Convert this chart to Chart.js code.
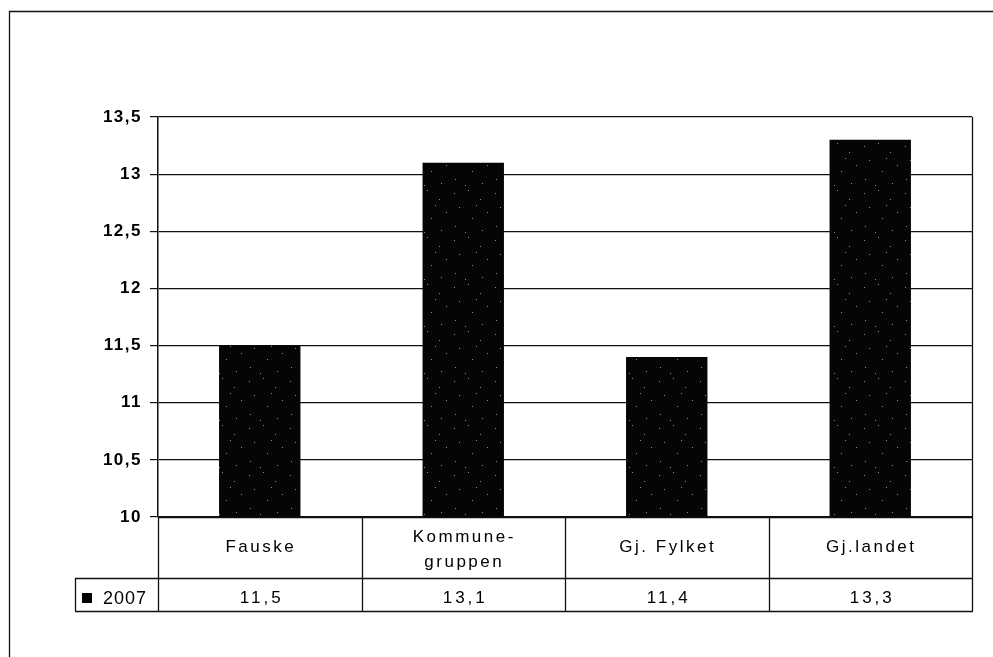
<!DOCTYPE html>
<html>
<head>
<meta charset="utf-8">
<script src="https://cdn.jsdelivr.net/npm/chart.js@4/dist/chart.umd.min.js"></script>
<style>
  html, body { margin: 0; padding: 0; background: #fff; }
  #wrap { width: 993px; height: 657px; }
</style>
</head>
<body>
<div id="wrap"><canvas id="c"></canvas></div>
<script>
// data
const categories = [['Fauske'], ['Kommune-', 'gruppen'], ['Gj. Fylket'], ['Gj.landet']]
const seriesName = '2007'
const values = [11.5, 13.1, 11.4, 13.3]
const valueLabels = ['11,5', '13,1', '11,4', '13,3']
const yMin = 10, yMax = 13.5, yStep = 0.5

const FONT = '"Liberation Sans", Arial, sans-serif'
const fmtComma = v => String(v).replace('.', ',')

// black fill with a few light specks, like the scanned original
function speckle() {
  const c = document.createElement('canvas')
  c.width = 41; c.height = 47
  const g = c.getContext('2d')
  g.fillStyle = '#050505'
  g.fillRect(0, 0, c.width, c.height)
  g.fillStyle = '#8a8a8a'
  const dots = [[3, 5], [17, 2], [29, 11], [8, 19], [36, 24], [21, 30], [4, 38], [31, 42], [14, 44], [25, 17]]
  dots.forEach(([dx, dy]) => g.fillRect(dx, dy, 1, 1))
  return document.getElementById('c').getContext('2d').createPattern(c, 'repeat')
}

// frame, y labels and the data table under the plot
const tablePlugin = {
  id: 'dataTable',
  afterDraw(chart) {
    const ctx = chart.ctx
    const x = chart.scales.x, y = chart.scales.y
    const area = chart.chartArea
    const catRowBottom = 578
    const serRowBottom = 611
    const legendLeft = 75
    ctx.save()
    ctx.strokeStyle = '#111'
    ctx.lineWidth = 1.3

    // outer frame (left + top only visible)
    ctx.beginPath()
    ctx.moveTo(9.5, 657); ctx.lineTo(9.5, 11.5); ctx.lineTo(993, 11.5)
    ctx.stroke()

    // plot right border
    ctx.beginPath()
    ctx.moveTo(area.right + 0.5, area.top); ctx.lineTo(area.right + 0.5, area.bottom)
    ctx.stroke()

    // table grid
    const half = (x.getPixelForValue(1) - x.getPixelForValue(0)) / 2
    const edges = categories.map((c, i) => x.getPixelForValue(i) - half).concat(area.right)
    ctx.beginPath()
    edges.forEach(ex => { ctx.moveTo(Math.round(ex) + 0.5, area.bottom); ctx.lineTo(Math.round(ex) + 0.5, serRowBottom) })
    ctx.moveTo(legendLeft + 0.5, catRowBottom); ctx.lineTo(legendLeft + 0.5, serRowBottom)
    ctx.moveTo(area.left, area.bottom + 0.5); ctx.lineTo(area.right, area.bottom + 0.5)
    ctx.moveTo(legendLeft, catRowBottom + 0.5); ctx.lineTo(area.right, catRowBottom + 0.5)
    ctx.moveTo(legendLeft, serRowBottom + 0.5); ctx.lineTo(area.right + 1, serRowBottom + 0.5)
    ctx.stroke()

    ctx.fillStyle = '#000'
    ctx.textBaseline = 'alphabetic'
    ctx.textAlign = 'center'
    ctx.font = '17px ' + FONT
    ctx.letterSpacing = '2.5px'

    // category names
    categories.forEach((lines, i) => {
      const cx = x.getPixelForValue(i) + 1
      if (lines.length === 1) ctx.fillText(lines[0], cx, 552)
      else lines.forEach((ln, k) => ctx.fillText(ln, cx, 542 + k * 25))
    })

    // values row
    ctx.letterSpacing = '3px'
    valueLabels.forEach((t, i) => ctx.fillText(t, x.getPixelForValue(i) + 2, 603))

    // legend cell
    ctx.fillRect(82, 593, 10, 10)
    ctx.textAlign = 'left'
    ctx.font = '18px ' + FONT
    ctx.letterSpacing = '1px'
    ctx.fillText(seriesName, 103, 604)

    // y labels
    ctx.textAlign = 'right'
    ctx.textBaseline = 'middle'
    ctx.font = 'bold 17px ' + FONT
    ctx.letterSpacing = '1.5px'
    y.ticks.forEach(t => {
      ctx.fillText(fmtComma(t.value), 142, y.getPixelForValue(t.value))
    })
    ctx.restore()
  }
}

new Chart(document.getElementById('c'), {
  type: 'bar',
  data: {
    labels: categories.map(c => c.join(' ')),
    datasets: [{
      label: seriesName,
      data: values,
      backgroundColor: speckle(),
      borderWidth: 0,
      barPercentage: 0.4,
      categoryPercentage: 1,
    }]
  },
  options: {
    responsive: true,
    maintainAspectRatio: false,
    animation: false,
    layout: { padding: { left: 0, top: 117, right: 21, bottom: 0 } },
    plugins: { legend: { display: false }, tooltip: { enabled: false } },
    scales: {
      x: {
        grid: { display: false },
        border: { display: false },
        ticks: { display: false },
        afterFit: s => { s.height = 657 - 117 - 400 }
      },
      y: {
        min: yMin, max: yMax,
        ticks: { stepSize: yStep, display: false },
        grid: { color: '#111', lineWidth: 1.2, tickLength: 8, drawTicks: true },
        border: { color: '#111', width: 1.5 },
        afterFit: s => { s.width = 158 }
      }
    }
  },
  plugins: [tablePlugin]
})
</script>
</body>
</html>
